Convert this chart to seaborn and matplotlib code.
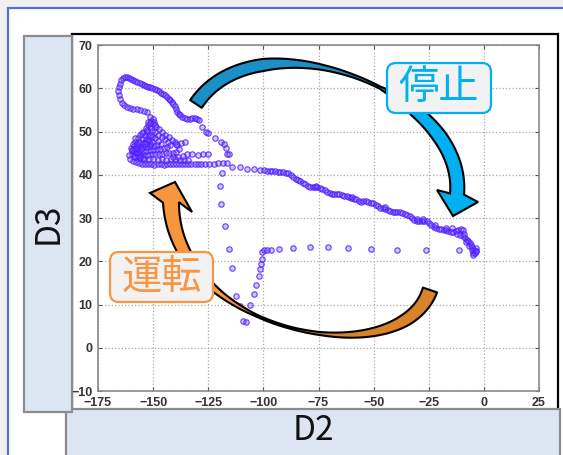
import numpy as np
import pandas as pd
import matplotlib
matplotlib.use("Agg")
import matplotlib.pyplot as plt
import seaborn as sns
from matplotlib.patches import Rectangle, FancyBboxPatch, Polygon

# ---------------------------------------------------------------- data
# Operating trajectory in the (D2, D3) plane, grouped by phase.

# loop above the running cluster
loop_d2 = [-152.1, -151.6, -152.6, -154.2, -155.8, -157.4, -159.0, -160.6, -162.0, -163.3,
           -164.3, -165.1, -165.6, -165.8, -165.5, -165.0, -164.4, -163.6, -162.7, -161.8,
           -160.9, -160.0, -159.1, -158.1, -157.1, -156.1, -155.2, -154.3, -153.3, -152.3,
           -151.3, -150.3, -149.3, -148.3, -147.4, -146.5, -145.6, -144.7, -143.8, -143.0,
           -142.2, -141.5, -140.9, -140.3, -139.7, -139.1, -138.4, -137.6, -136.7, -135.7,
           -134.6, -133.4, -132.2, -131.0, -129.9, -129.0]
loop_d3 = [52.3, 53.4, 54.4, 54.8, 55.0, 55.1, 55.2, 55.4, 55.7, 56.1,
           56.7, 57.5, 58.4, 59.3, 60.2, 61.0, 61.8, 62.4, 62.7, 62.6,
           62.4, 62.2, 61.9, 61.7, 61.4, 61.1, 60.9, 60.8, 60.6, 60.4,
           60.3, 60.1, 59.9, 59.6, 59.3, 59.0, 58.7, 58.4, 58.0, 57.6,
           57.2, 56.8, 56.3, 55.8, 55.2, 54.6, 54.1, 53.7, 53.4, 53.1,
           52.9, 53.0, 53.2, 53.2, 53.0, 52.6]

# steady running cluster
cluster_d2 = [-160.5, -159.2, -157.8, -156.4, -155.0, -153.6, -152.2, -150.8, -149.4, -148.0,
              -146.6, -145.2, -143.8, -142.4, -141.0, -139.6, -138.2, -136.8, -135.4, -134.0,
              -132.6, -131.2, -129.8, -128.4, -126.5, -124.5, -122.5, -120.5, -118.5, -116.5,
              -158.0, -156.0, -154.0, -152.0, -150.0, -148.0, -146.0, -144.0, -142.0, -140.0,
              -138.0, -136.0, -134.0,
              -151.0, -152.2, -153.4, -154.6, -155.8, -157.0, -158.0, -158.9, -159.6, -159.8,
              -158.6, -157.0, -155.4, -153.8, -152.2, -150.6, -149.0, -147.4, -145.8, -144.2,
              -142.6, -141.0, -139.4, -138.2, -139.0, -140.2, -141.6, -143.0, -144.4, -145.8,
              -147.2, -148.6, -150.0,
              -151.4, -152.6, -153.8, -155.0, -156.2, -157.2, -157.6, -156.4, -154.8, -153.2,
              -151.6, -150.0, -148.4, -146.8, -145.2, -143.6, -142.4, -143.4, -144.8, -146.2,
              -147.6, -149.0, -150.4,
              -152.0, -153.4, -154.8, -155.8, -154.6, -153.0, -151.4, -149.8, -148.2, -146.6,
              -147.8, -149.2, -150.6,
              -153.2, -151.8, -150.6, -151.6, -152.8,
              -158.4, -157.0, -158.8, -160.2, -159.0, -157.4, -156.0, -154.4, -156.8,
              -150.2, -149.6, -151.6, -149.2,
              -139.5, -137.5, -135.5, -136.6, -134.6, -132.4, -129.6, -127.4, -125.0, -140.8,
              -138.6,
              -159.4, -157.6, -155.6, -153.8, -152.4, -150.8, -155.2, -153.0, -158.2, -160.8]
cluster_d3 = [43.6, 43.2, 42.9, 42.7, 42.6, 42.5, 42.4, 42.4, 42.3, 42.4,
              42.4, 42.3, 42.4, 42.4, 42.5, 42.4, 42.4, 42.5, 42.4, 42.4,
              42.4, 42.5, 42.4, 42.5, 42.5, 42.6, 42.6, 42.7, 42.7, 42.7,
              44.0, 43.8, 43.7, 43.6, 43.6, 43.5, 43.6, 43.5, 43.6, 43.6,
              43.5, 43.4, 43.3,
              52.5, 51.6, 50.8, 50.0, 49.2, 48.4, 47.5, 46.6, 45.7, 44.8,
              44.3, 44.4, 44.5, 44.6, 44.6, 44.7, 44.8, 44.8, 44.9, 45.0,
              45.0, 45.1, 45.3, 45.9, 46.8, 47.5, 48.1, 48.7, 49.3, 49.9,
              50.5, 51.1, 51.7,
              50.9, 50.0, 49.1, 48.3, 47.5, 46.6, 45.6, 45.4, 45.5, 45.6,
              45.7, 45.8, 45.9, 46.0, 46.2, 46.4, 46.9, 47.6, 48.2, 48.8,
              49.3, 49.8, 50.2,
              49.0, 48.2, 47.4, 46.6, 46.4, 46.5, 46.6, 46.7, 46.9, 47.2,
              47.9, 48.4, 48.8,
              47.6, 47.8, 47.6, 47.2, 47.0,
              45.2, 45.0, 46.0, 46.2, 47.0, 47.2, 44.0, 43.9, 46.0,
              53.0, 52.2, 52.0, 51.4,
              47.2, 47.3, 47.5, 44.4, 44.9, 44.8, 44.6, 44.7, 44.7, 44.2,
              44.0,
              45.8, 46.2, 45.9, 47.2, 48.0, 49.2, 49.6, 50.4, 48.6, 44.6]

# shutdown: slide from the cluster down to the stopped state
stop_d2 = [-127.7, -126.2, -125.3, -121.8, -119.2, -117.8, -117.0, -116.5, -115.8,
           -114.2, -110.8, -107.4, -104.4, -101.7,
           -99.5, -98.3, -97.1, -95.9, -94.7, -93.5, -92.3, -91.1, -89.9, -88.7,
           -87.6, -86.5, -85.4, -84.3, -83.2, -82.1, -81.0, -79.9, -78.8, -77.7,
           -76.6, -75.5, -74.4, -73.3, -72.2, -71.1, -70.0, -68.9, -67.8, -66.7,
           -65.6, -64.5, -63.4, -62.3, -61.2, -60.1, -59.0, -57.9, -56.8, -55.7,
           -54.6, -53.5, -52.4, -51.3, -50.2, -49.1, -48.0, -46.9, -45.8, -44.7,
           -43.6, -42.5, -41.4, -40.3, -39.2, -38.1, -37.0, -35.9, -34.8, -33.7,
           -32.6, -31.5, -30.4, -29.3, -28.2, -27.1, -26.0, -24.9, -23.8, -22.7,
           -21.6, -20.5, -19.4, -18.3, -17.2, -16.1, -15.0, -13.9, -12.8,
           -11.7, -10.6, -9.6, -12.0, -10.8, -9.6, -8.6, -9.2, -7.8, -7.0,
           -8.2, -6.4, -5.8, -6.8, -5.2, -4.6, -5.6, -4.8, -4.9, -4.0,
           -3.6, -3.6, -17.0, -14.5, -22.0, -27.5, -30.5, -45.0, -60.0, -76.0]
stop_d3 = [51.1, 50.0, 49.6, 48.5, 47.5, 47.0, 46.3, 44.9, 44.7,
           41.9, 41.7, 41.4, 41.3, 41.2,
           41.0, 40.9, 40.9, 40.8, 40.8, 40.7, 40.7, 40.6, 40.5, 40.3,
           40.0, 39.5, 39.0, 38.7, 38.5, 38.2, 37.8, 37.5, 37.2, 37.1,
           37.2, 37.1, 36.9, 36.7, 36.4, 36.1, 35.8, 35.6, 35.5, 35.6,
           35.6, 35.4, 35.2, 35.0, 34.9, 34.7, 34.5, 34.3, 34.0, 33.8,
           33.9, 33.9, 33.7, 33.5, 33.4, 33.0, 32.7, 32.4, 32.2, 32.0,
           31.8, 31.6, 31.4, 31.4, 31.3, 31.3, 31.2, 31.0, 30.7, 30.4,
           30.0, 29.6, 29.3, 29.2, 29.3, 29.4, 29.2, 28.9, 28.4, 28.0,
           27.7, 27.5, 27.4, 27.3, 27.2, 27.0, 26.8, 26.8, 27.0,
           27.2, 27.4, 27.2, 26.2, 26.0, 25.8, 25.4, 26.4, 25.0, 24.6,
           24.4, 24.2, 23.8, 23.6, 23.2, 22.7, 22.6, 22.0, 21.4, 21.8,
           22.4, 23.1, 27.8, 27.6, 28.4, 29.8, 29.8, 32.5, 34.9, 37.4]

# start-up: sparse jumps back toward the running cluster
run_d2 = [-118.8, -119.5, -119.2, -117.6, -115.8, -114.2, -112.3, -110.8, -109.2, -107.7,
          -105.9, -104.4, -103.2, -102.0, -101.4, -100.9, -100.8, -100.5, -99.8, -98.3,
          -96.5, -93.0, -86.5, -79.0, -70.6, -61.5, -51.0, -39.5, -26.4, -11.2, -3.6]
run_d3 = [40.5, 37.3, 33.3, 28.1, 22.9, 18.5, 11.9, 9.6, 6.1, 6.0,
          9.8, 12.5, 14.6, 16.5, 18.3, 19.4, 20.6, 22.2, 22.5, 22.6,
          22.6, 22.9, 23.1, 23.2, 23.2, 23.1, 22.8, 22.7, 22.5, 22.5, 22.3]

x_ticks = [-175, -150, -125, -100, -75, -50, -25, 0, 25]
y_ticks = [-10, 0, 10, 20, 30, 40, 50, 60, 70]

df = pd.DataFrame({
    "D2": np.concatenate([loop_d2, cluster_d2, stop_d2, run_d2]),
    "D3": np.concatenate([loop_d3, cluster_d3, stop_d3, run_d3]),
})

# ---------------------------------------------------------------- style
sns.set_theme(style="white")
plt.rcParams["font.family"] = ["Noto Sans CJK JP", "DejaVu Sans"]
plt.rcParams["axes.unicode_minus"] = True

W, H = 563, 455
fig = plt.figure(figsize=(W / 100, H / 100), dpi=100, facecolor="#f0f0f0")

# slide background and chart frame
bg = fig.add_axes([0, 0, 1, 1], zorder=0)
bg.set_xlim(0, W)
bg.set_ylim(H, 0)
bg.axis("off")
bg.add_patch(Rectangle((8, 8), 620, 520, fc="white", ec="#4f72d9", lw=1.6))
bg.add_patch(Rectangle((72, 34), 486, 400, fc="white", ec="black", lw=1.6))

# scatter plot
ax = fig.add_axes([98 / W, (H - 391) / H, 441 / W, 346 / H], zorder=1)
sns.scatterplot(data=df, x="D2", y="D3", ax=ax, s=15, marker="o",
                facecolor=(0.45, 0.30, 1.0, 0.32),
                edgecolor=(0.30, 0.10, 1.0, 0.80), linewidth=0.85, legend=False)
ax.set_xlim(-175, 25)
ax.set_ylim(-10, 70)
ax.set_xticks(x_ticks)
ax.set_yticks(y_ticks)
ax.set_xlabel("")
ax.set_ylabel("")
ax.set_facecolor("white")
ax.grid(True, linestyle=":", color="#a8a8a8", linewidth=0.9)
for sp in ax.spines.values():
    sp.set_color("#8a8a8a")
    sp.set_linewidth(1.2)
ax.tick_params(direction="in", length=3, width=0.8, color="#555555",
               top=True, right=True, bottom=True, left=True,
               labelsize=9, labelcolor="#333333", pad=4)
for lab in ax.get_xticklabels() + ax.get_yticklabels():
    lab.set_fontfamily(["Liberation Sans", "DejaVu Sans"])
    lab.set_fontweight("bold")

# overlay: axis name boxes, arrows and state labels
ov = fig.add_axes([0, 0, 1, 1], zorder=2)
ov.set_xlim(0, W)
ov.set_ylim(H, 0)
ov.axis("off")

ov.add_patch(Rectangle((66, 409), 494, 70, fc="#dce6f2", ec="#8c8c8c", lw=1.6))
ov.add_patch(Rectangle((24, 36), 48, 376, fc="#dce6f2", ec="#8c8c8c", lw=1.6))
ov.text(48, 223, "D3", rotation=90, fontsize=24, ha="center", va="center", color="#111111")
ov.text(313, 431, "D2", fontsize=24, ha="center", va="center", color="#111111")


def cubic(ctrl, t):
    p0, p1, p2, p3 = [np.asarray(q, float) for q in ctrl]
    t = t[:, None]
    pts = (1 - t) ** 3 * p0 + 3 * (1 - t) ** 2 * t * p1 + 3 * (1 - t) * t ** 2 * p2 + t ** 3 * p3
    der = 3 * (1 - t) ** 2 * (p1 - p0) + 6 * (1 - t) * t * (p2 - p1) + 3 * t ** 2 * (p3 - p2)
    return pts, der


def ribbon_arrow(axis, ctrl, w_t, w_v, split, back_fc, front_fc, wings, tip):
    t = np.linspace(0, 1, 300)
    c, der = cubic(ctrl, t)
    d = der / np.linalg.norm(der, axis=1)[:, None]
    n = np.column_stack([-d[:, 1], d[:, 0]])
    w = np.interp(t, w_t, w_v)[:, None] / 2
    e1, e2 = c + n * w, c - n * w
    b = t <= split
    f = t >= split
    axis.add_patch(Polygon(np.vstack([e1[b], e2[b][::-1]]), closed=True, fc=back_fc,
                           ec="black", lw=1.5, joinstyle="round", zorder=3))
    wa, wb = np.asarray(wings, float)
    if np.dot(wa - c[-1], n[-1]) < 0:
        wa, wb = wb, wa
    head = np.vstack([e1[f], wa, tip, wb, e2[f][::-1]])
    axis.add_patch(Polygon(head, closed=True, fc=front_fc, ec="black", lw=1.5,
                           joinstyle="miter", zorder=3))


# shutdown arrow (over the top, pointing down-right)
ribbon_arrow(ov, [(196, 104), (256.5, 12.7), (466, 90), (457, 194)],
             [0, 0.25, 0.33, 0.42, 0.5, 0.58, 0.7, 0.8, 1],
             [14, 12, 8.5, 5, 3, 2.2, 12, 14, 14],
             0.6, "#1b8fc7", "#00b0f0", [(437, 190), (478, 202)], (453, 216))

# start-up arrow (under the bottom, pointing up-left)
ribbon_arrow(ov, [(430, 290), (401.2, 375.5), (175, 335), (171, 202.5)],
             [0, 0.15, 0.3, 0.42, 0.5, 0.6, 0.7, 0.85, 1],
             [15, 12, 7, 3, 2, 2, 5, 12, 16],
             0.55, "#d9822b", "#f7963a", [(150, 193), (192, 212)], (175, 182))

ov.add_patch(FancyBboxPatch((391, 67), 96, 42, boxstyle="round,pad=4,rounding_size=9",
                            fc="#f2f2f2", ec="#00b0f0", lw=1.6, zorder=5))
ov.text(439, 88, "停止", fontsize=29, color="#00b0f0", ha="center", va="center", zorder=6)

ov.add_patch(FancyBboxPatch((114, 256), 95, 42, boxstyle="round,pad=4,rounding_size=9",
                            fc="#f2f2f2", ec="#f79646", lw=1.6, zorder=5))
ov.text(161.5, 277, "運転", fontsize=29, color="#f79646", ha="center", va="center", zorder=6)

fig.savefig("out.png", dpi=100, facecolor=fig.get_facecolor())
